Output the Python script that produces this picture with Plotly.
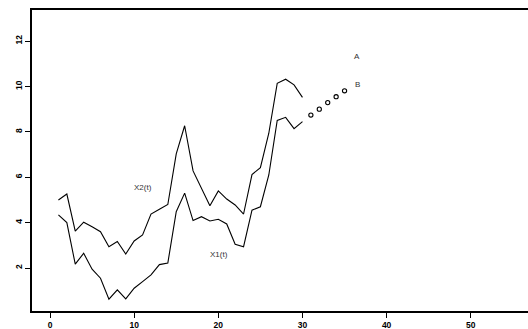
import plotly.graph_objects as go

t = list(range(1, 31))
x1 = [4.34, 4.00, 2.17, 2.65, 1.95, 1.55, 0.63, 1.04, 0.64, 1.11,
      1.40, 1.70, 2.15, 2.22, 4.48, 5.30, 4.09, 4.26, 4.07, 4.15,
      3.94, 3.05, 2.94, 4.55, 4.70, 6.10, 8.50, 8.64, 8.14, 8.45]
x2 = [5.00, 5.26, 3.63, 4.02, 3.82, 3.60, 2.94, 3.17, 2.62, 3.19,
      3.46, 4.38, 4.59, 4.80, 7.03, 8.27, 6.28, 5.52, 4.74, 5.40,
      5.04, 4.78, 4.38, 6.12, 6.42, 7.94, 10.14, 10.32, 10.07, 9.52]
t_fc = [31, 32, 33, 34, 35]
fc = [8.74, 9.00, 9.29, 9.55, 9.81]

labels = [("X2(t)", 11.0, 5.56), ("X1(t)", 20.1, 2.58), ("A", 36.5, 11.31), ("B", 36.5, 10.07)]
xticks = [0, 10, 20, 30, 40, 50]
yticks = [2, 4, 6, 8, 10, 12]

fig = go.Figure()
fig.add_trace(go.Scatter(x=t, y=x2, mode="lines", line=dict(color="black", width=1.1)))
fig.add_trace(go.Scatter(x=t, y=x1, mode="lines", line=dict(color="black", width=1.1)))
fig.add_trace(go.Scatter(x=t_fc, y=fc, mode="markers",
                         marker=dict(symbol="circle-open", size=4.2, color="black", line=dict(width=1.1))))

for txt, xx, yy in labels:
    fig.add_annotation(x=xx, y=yy, text=txt, showarrow=False, xref="x", yref="y",
                       font=dict(family="Liberation Sans, Arial", size=8, color="#333"))

fig.update_layout(
    width=528, height=329, showlegend=False,
    margin=dict(l=32, r=0, t=10, b=18),
    plot_bgcolor="white", paper_bgcolor="white",
    xaxis=dict(range=[-2.14, 56.8], tickvals=xticks, showgrid=False, zeroline=False,
               showline=True, mirror=True, linecolor="black", linewidth=1.6,
               ticks="outside", ticklen=5, tickcolor="black", tickwidth=1.3,
               tickfont=dict(family="Liberation Sans, Arial", size=8.5, color="black", weight="bold")),
    yaxis=dict(range=[0.106, 13.37], tickvals=yticks, showgrid=False, zeroline=False,
               showline=True, linecolor="black", linewidth=1.6,
               ticks="outside", ticklen=5, tickcolor="black", tickwidth=1.3, tickangle=-90,
               tickfont=dict(family="Liberation Sans, Arial", size=8.5, color="black", weight="bold")),
)

fig.write_html("out.html", config={"displayModeBar": False},
               post_script="document.body.style.margin='0';document.body.style.overflow='hidden';")
